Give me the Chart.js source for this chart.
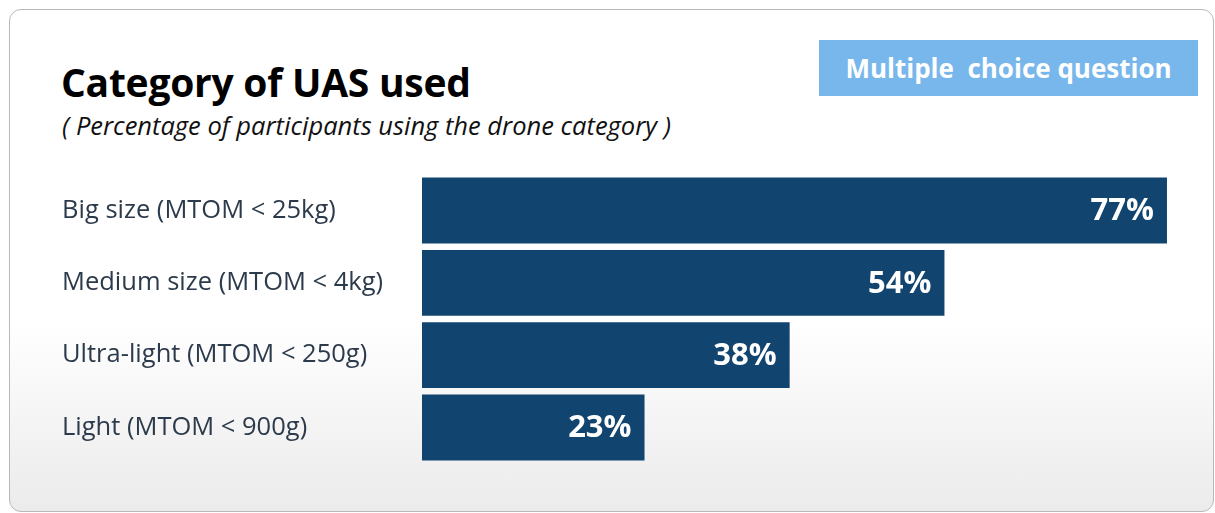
<!DOCTYPE html>
<html>
<head>
<meta charset="utf-8">
<script src="https://cdn.jsdelivr.net/npm/chart.js@4.4.1/dist/chart.umd.min.js"></script>
<style>
  html, body { margin: 0; padding: 0; background: #fff; }
  body { width: 1215px; height: 513px; position: relative; overflow: hidden; font-family: "Open Sans", sans-serif; }
  .card {
    position: absolute; left: 9px; top: 9px; width: 1203px; height: 501px;
    border: 1px solid #b8b8b8; border-radius: 12px;
    background: linear-gradient(to bottom, #ffffff 0%, #ffffff 62%, #ebebeb 100%);
  }
  .title { position: absolute; left: 61px; top: 55px; font-size: 39px; line-height: 54px; font-weight: 700; color: #000; letter-spacing: -0.25px; }
  .subtitle { position: absolute; left: 62px; top: 108px; font-size: 25.5px; line-height: 34px; font-style: italic; color: #111; }
  .badge {
    position: absolute; left: 819px; top: 40px; width: 379px; height: 56px;
    background: #78b7eb; color: #fff; font-weight: 700; font-size: 26px;
    line-height: 56px; text-align: center;
  }
  .chart-box { position: absolute; left: 62px; top: 159px; width: 1134px; height: 320px; }
</style>
</head>
<body>
<div class="card"></div>
<div class="title">Category of UAS used</div>
<div class="subtitle">( Percentage of participants using the drone category )</div>
<div class="badge">Multiple&nbsp; choice question</div>
<div class="chart-box"><canvas id="uasChart"></canvas></div>

<script>
// drone categories and share of participants (%)
const categories = [
  'Big size (MTOM < 25kg)',
  'Medium size (MTOM < 4kg)',
  'Ultra-light (MTOM < 250g)',
  'Light (MTOM < 900g)'
];
const shares = [77, 54, 38, 23];

// writes "NN%" in white at the right end of each bar
const barValueLabels = {
  id: 'barValueLabels',
  afterDatasetsDraw(chart) {
    const ctx = chart.ctx;
    const meta = chart.getDatasetMeta(0);
    ctx.save();
    ctx.fillStyle = '#ffffff';
    ctx.font = '700 31px "Open Sans", sans-serif';
    ctx.textAlign = 'right';
    ctx.textBaseline = 'middle';
    meta.data.forEach((bar, i) => {
      ctx.fillText(shares[i] + '%', bar.x - 13, bar.y + 1);
    });
    ctx.restore();
  }
};

new Chart(document.getElementById('uasChart'), {
  type: 'bar',
  data: {
    labels: categories,
    datasets: [{
      data: shares,
      backgroundColor: '#11446f',
      borderWidth: 0,
      barPercentage: 0.91,
      categoryPercentage: 1
    }]
  },
  options: {
    indexAxis: 'y',
    responsive: true,
    maintainAspectRatio: false,
    animation: false,
    layout: { padding: 0 },
    plugins: {
      legend: { display: false },
      tooltip: { enabled: false }
    },
    scales: {
      x: {
        display: false,
        min: 0,
        max: 80
      },
      y: {
        grid: { display: false },
        border: { display: false },
        ticks: {
          crossAlign: 'far',
          color: '#2c3b4b',
          padding: 0,
          font: { family: '"Open Sans", sans-serif', size: 25.5 }
        },
        afterFit(scale) { scale.width = 360; }
      }
    }
  },
  plugins: [barValueLabels]
});
</script>
</body>
</html>
